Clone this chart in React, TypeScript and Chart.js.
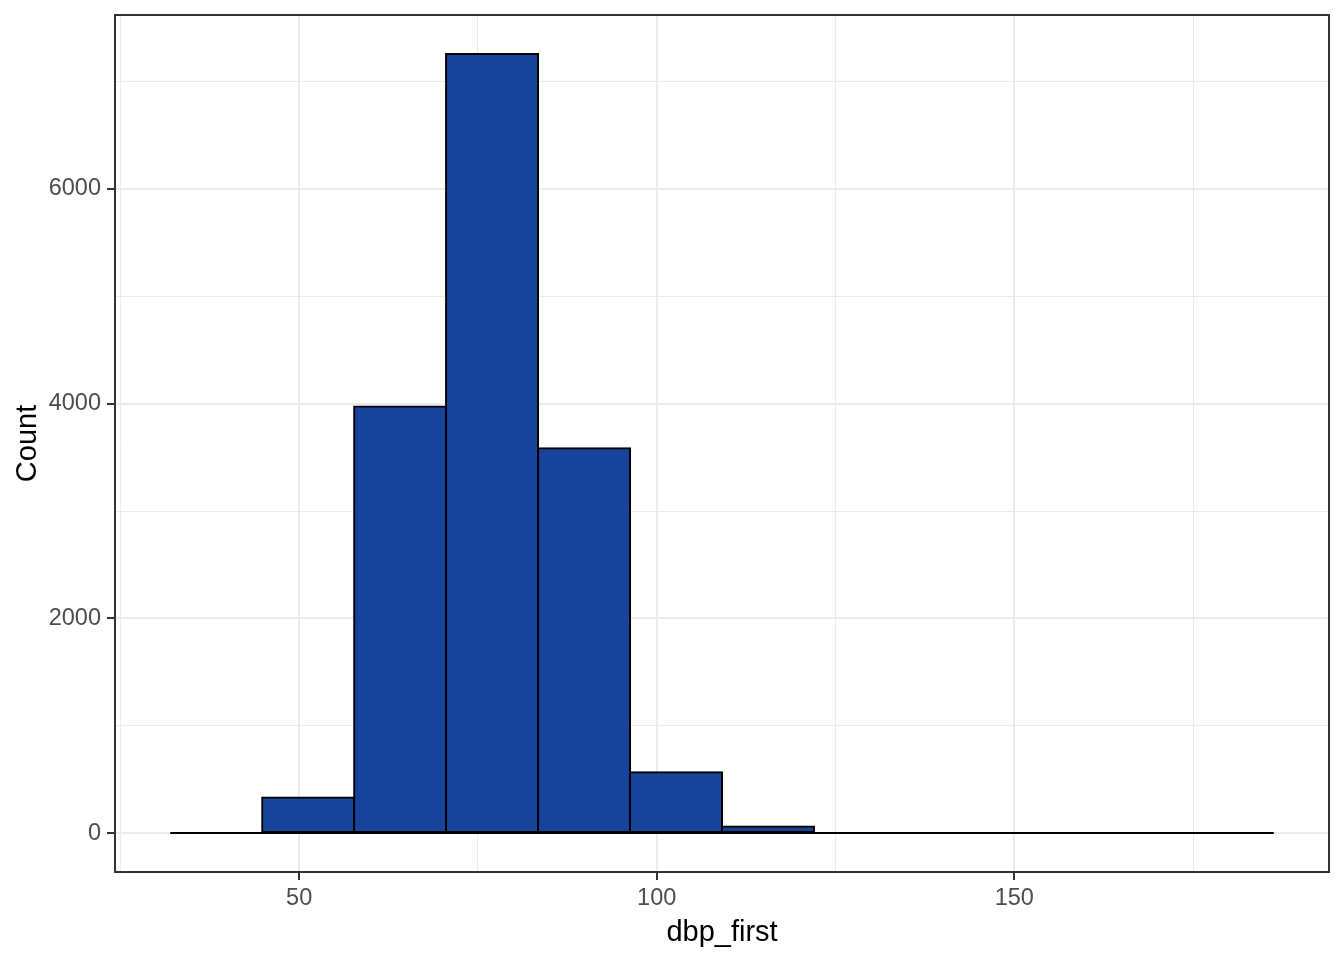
import React, { useEffect, useRef } from "react";
import { Chart, registerables } from "chart.js";

Chart.register(...registerables);

// Histogram bin edges (dbp_first) and counts per bin
const binEdges = [31.97, 44.83, 57.69, 70.55, 83.41, 96.27, 109.13, 121.99, 134.85, 147.71, 160.57, 173.43, 186.29];
const counts = [0, 331, 3973, 7258, 3585, 567, 61, 0, 0, 0, 0, 0];

// Axis ticks: grid positions (major + minor) and labelled majors
const xGridTicks = [25, 50, 75, 100, 125, 150, 175];
const xLabelTicks = [50, 100, 150];
const yGridTicks = [0, 1000, 2000, 3000, 4000, 5000, 6000, 7000];
const yLabelTicks = [0, 2000, 4000, 6000];

const xTitle = "dbp_first";
const yTitle = "Count";
const xMin = 24.25;
const xMax = 194.01;
const yMin = -363;
const yMax = 7621;

const FONT = "'Liberation Sans', Arial, Helvetica, sans-serif";

const panelBorder = {
  id: "panelBorder",
  afterDraw(chart: any) {
    const { ctx, chartArea } = chart;
    ctx.save();
    ctx.strokeStyle = "#333333";
    ctx.lineWidth = 2;
    ctx.strokeRect(chartArea.left, chartArea.top, chartArea.right - chartArea.left, chartArea.bottom - chartArea.top);
    ctx.restore();
  },
};

export default function App() {
  const ref = useRef<HTMLCanvasElement | null>(null);

  useEffect(() => {
    document.body.style.margin = "0";
    const canvas = ref.current;
    if (!canvas) return;
    const centers = counts.map((_, i) => (binEdges[i] + binEdges[i + 1]) / 2);
    const barData = counts.map((c, i) => ({ x: centers[i], y: c }));
    const baseLine = binEdges.map((e) => ({ x: e, y: 0 }));

    const xMajor = (v: number) => xLabelTicks.includes(v);
    const yMajor = (v: number) => yLabelTicks.includes(v);

    const chart = new Chart(canvas, {
      type: "bar",
      data: {
        datasets: [
          {
            type: "line",
            data: baseLine,
            borderColor: "#000000",
            borderWidth: 2,
            pointRadius: 0,
            fill: false,
          } as any,
          {
            type: "bar",
            data: barData,
            backgroundColor: "#17449A",
            borderColor: "#000000",
            borderWidth: 2,
            borderSkipped: false,
            inflateAmount: 1,
            barPercentage: 1,
            categoryPercentage: 1,
          } as any,
        ],
      },
      plugins: [panelBorder],
      options: {
        animation: false,
        responsive: true,
        maintainAspectRatio: false,
        devicePixelRatio: 1,
        layout: { padding: { top: 15, right: 15, bottom: 0, left: 0 } },
        plugins: {
          legend: { display: false },
          tooltip: { enabled: false },
        },
        scales: {
          x: {
            type: "linear",
            min: xMin,
            max: xMax,
            offset: false,
            afterBuildTicks: (s: any) => {
              s.ticks = xGridTicks.map((v) => ({ value: v }));
            },
            afterFit: (s: any) => {
              s.height = 88;
              s.paddingLeft = 0;
              s.paddingRight = 0;
            },
            grid: {
              offset: false,
              color: "#EBEBEB",
              lineWidth: (c: any) => (xMajor(c.tick?.value) ? 2 : 1),
              tickColor: (c: any) => (xMajor(c.tick?.value) ? "#333333" : "rgba(0,0,0,0)"),
              tickLength: 8,
              tickWidth: 2,
              drawTicks: true,
            },
            border: { display: false },
            ticks: {
              autoSkip: false,
              maxRotation: 0,
              padding: 4,
              color: "#4D4D4D",
              font: { family: FONT, size: 23.5 },
              callback: (v: any) => (xMajor(Number(v)) ? String(v) : ""),
            },
            title: {
              display: true,
              text: xTitle,
              color: "#000000",
              font: { family: FONT, size: 29 },
              padding: { top: 0, bottom: 9.6 },
            },
          },
          y: {
            type: "linear",
            min: yMin,
            max: yMax,
            afterBuildTicks: (s: any) => {
              s.ticks = yGridTicks.map((v) => ({ value: v }));
            },
            afterFit: (s: any) => {
              s.width = 115;
              s.paddingTop = 0;
              s.paddingBottom = 0;
            },
            grid: {
              color: "#EBEBEB",
              lineWidth: (c: any) => (yMajor(c.tick?.value) ? 2 : 1),
              tickColor: (c: any) => (yMajor(c.tick?.value) ? "#333333" : "rgba(0,0,0,0)"),
              tickLength: 8,
              tickWidth: 2,
              drawTicks: true,
            },
            border: { display: false },
            ticks: {
              autoSkip: false,
              padding: 6,
              color: "#4D4D4D",
              font: { family: FONT, size: 23.5 },
              callback: (v: any) => (yMajor(Number(v)) ? String(v) : ""),
            },
            title: {
              display: true,
              text: yTitle,
              color: "#000000",
              font: { family: FONT, size: 29 },
              padding: { top: 10.6, bottom: 0 },
            },
          },
        },
      } as any,
    });
    return () => chart.destroy();
  }, []);

  return (
    <div style={{ position: "absolute", left: 0, top: 0, width: 1344, height: 960, background: "#ffffff" }}>
      <canvas ref={ref} />
    </div>
  );
}
